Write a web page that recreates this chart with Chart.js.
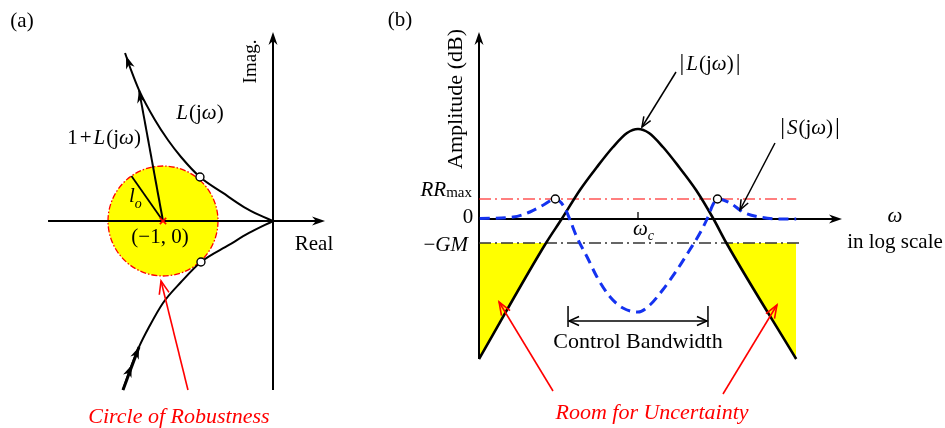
<!DOCTYPE html>
<html><head><meta charset="utf-8">
<script src="https://cdn.jsdelivr.net/npm/chart.js@4.4.1/dist/chart.umd.min.js"></script>
<style>
html,body{margin:0;padding:0;background:#fff;width:945px;height:428px;overflow:hidden}
#ca{position:absolute;left:0;top:0}
#cb{position:absolute;left:380px;top:0}
</style></head>
<body>
<canvas id="ca" width="380" height="428"></canvas>
<canvas id="cb" width="565" height="428"></canvas>
<script>
// ================= Panel (a): Nyquist plane =================
const lUpperRe = [0, -0.127, -0.264, -0.455, -0.664, -0.836, -0.955, -1.073, -1.218, -1.291, -1.345];
const lUpperIm = [0, 0.055, 0.127, 0.255, 0.40, 0.582, 0.736, 0.918, 1.19, 1.373, 1.527];
const lLowerRe = [0, -0.218, -0.40, -0.655, -0.836, -1.0, -1.127, -1.218, -1.291, -1.364];
const lLowerIm = [0, -0.109, -0.218, -0.373, -0.555, -0.745, -0.964, -1.145, -1.327, -1.536];
const criticalPoint = [-1, 0];
const lo = 0.5;               // radius of robustness circle
const loAngleDeg = 125;       // direction of l_o radius line
const vecTip = [-1.218, 1.19]; // tip of 1+L(jω) vector (on L curve)
const touchRe = [-0.664, -0.655];
const touchIm = [0.40, -0.373];
const realAxisRange = [-2.045, 0.473];
const imagAxisRange = [-1.536, 1.718];

// ================= Panel (b): Bode magnitude =================
const logW_L = [-2.0, -1.157, -0.96, -0.73, -0.516, -0.314, -0.138, 0, 0.138, 0.314, 0.516, 0.73, 0.95, 1.112, 1.99];
const magL_dB = [-35, -6, 0, 7.25, 13, 18, 21.5, 22.5, 21.5, 18, 13, 7.25, 0, -6, -35];
const logW_S = [-1.99, -1.57, -1.36, -1.19, -1.04, -0.92, -0.855, -0.77, -0.64, -0.516, -0.35, -0.19, 0, 0.15, 0.31, 0.49, 0.65, 0.78, 0.88, 0.94, 1.0, 1.16, 1.32, 1.53, 1.82, 1.99];
const magS_dB = [0.1, 0.5, 1.75, 3.5, 5, 2.75, -0.25, -4.5, -9.5, -14.5, -19.5, -22.25, -23.25, -21.5, -17.75, -12.75, -7.75, -3.5, 0.5, 3.5, 5, 4, 1.75, 0.5, 0, 0];
const sPeakW = [-1.04, 1.0];
const RRmax_dB = 5;
const GM_dB = 6;
const refLineW = [-2.0, 1.99];
const gmLineW = [-2.0, 2.05];
const bandwidthW = [-0.88, 0.88];
const bAxisW = [-2.0, 2.566];
const bAxisDb = [-35, 46.75];

// ================= helpers =================
const FONT = "'Liberation Serif','Times New Roman',serif";
const fnt = (z, i) => (i ? 'italic ' : '') + z + 'px ' + FONT;
function rich(ctx, x, y, segs, align, color, rot) {
  ctx.save();
  ctx.translate(x, y); if (rot) ctx.rotate(rot);
  ctx.fillStyle = color || '#000'; ctx.textBaseline = 'alphabetic'; ctx.textAlign = 'left';
  let w = 0; const ws = [];
  for (const s of segs) { ctx.font = fnt(s.z || 21, s.i); const m = ctx.measureText(s.t).width + (s.g || 0); ws.push(m); w += m; }
  let cx = align === 'center' ? -w / 2 : align === 'right' ? -w : 0;
  segs.forEach((s, k) => { ctx.font = fnt(s.z || 21, s.i); ctx.fillText(s.t, cx, s.dy || 0); cx += ws[k]; });
  ctx.restore();
}
function seg(ctx, x0, y0, x1, y1, color, lw, dash) {
  ctx.save(); ctx.beginPath(); ctx.moveTo(x0, y0); ctx.lineTo(x1, y1);
  ctx.strokeStyle = color; ctx.lineWidth = lw; if (dash) ctx.setLineDash(dash); ctx.stroke(); ctx.restore();
}
function headFilled(ctx, x, y, ang, len, hw, color) {
  ctx.save(); ctx.translate(x, y); ctx.rotate(ang);
  ctx.beginPath(); ctx.moveTo(0, 0); ctx.lineTo(-len, -hw); ctx.lineTo(-len * 0.7, 0); ctx.lineTo(-len, hw); ctx.closePath();
  ctx.fillStyle = color; ctx.fill(); ctx.restore();
}
function headOpen(ctx, x, y, ang, len, hw, color, lw) {
  ctx.save(); ctx.translate(x, y); ctx.rotate(ang);
  ctx.beginPath(); ctx.moveTo(-len, -hw); ctx.lineTo(0, 0); ctx.lineTo(-len, hw);
  ctx.strokeStyle = color; ctx.lineWidth = lw; ctx.lineJoin = 'miter'; ctx.stroke(); ctx.restore();
}
function arrow(ctx, x0, y0, x1, y1, o) {
  const ang = Math.atan2(y1 - y0, x1 - x0);
  if (o.open) { seg(ctx, x0, y0, x1, y1, o.color, o.lw); headOpen(ctx, x1, y1, ang, o.len, o.hw, o.color, o.lw); }
  else {
    const bx = x1 - Math.cos(ang) * o.len * 0.6, by = y1 - Math.sin(ang) * o.len * 0.6;
    seg(ctx, x0, y0, bx, by, o.color, o.lw); headFilled(ctx, x1, y1, ang, o.len, o.hw, o.color);
  }
}
const pts = (xs, ys) => xs.map((v, i) => ({ x: v, y: ys[i] }));

// ================= Chart (a) =================
const loEnd = [criticalPoint[0] + lo * Math.cos(loAngleDeg * Math.PI / 180), criticalPoint[1] + lo * Math.sin(loAngleDeg * Math.PI / 180)];
const pluginA = {
  id: 'panelA',
  beforeDatasetsDraw(chart) {
    const { ctx, scales: { x, y } } = chart;
    const X = v => x.getPixelForValue(v), Y = v => y.getPixelForValue(v);
    const cx = X(criticalPoint[0]), cy = Y(criticalPoint[1]), r = X(criticalPoint[0] + lo) - cx;
    ctx.save();
    ctx.beginPath(); ctx.arc(cx, cy, r, 0, 2 * Math.PI); ctx.fillStyle = '#ffff00'; ctx.fill();
    ctx.setLineDash([6, 2, 1.5, 2]); ctx.strokeStyle = '#ff0000'; ctx.lineWidth = 1.3; ctx.stroke();
    ctx.restore();
    arrow(ctx, X(realAxisRange[0]), Y(0), X(realAxisRange[1]), Y(0), { color: '#000', lw: 2, len: 13, hw: 4.5 });
    arrow(ctx, X(0), Y(imagAxisRange[0]), X(0), Y(imagAxisRange[1]), { color: '#000', lw: 2, len: 13, hw: 4.5 });
  },
  afterDatasetsDraw(chart) {
    const { ctx, scales: { x, y } } = chart;
    const X = v => x.getPixelForValue(v), Y = v => y.getPixelForValue(v);
    // upper branch arrow head
    let n = lUpperRe.length;
    let ax = X(lUpperRe[n - 2]), ay = Y(lUpperIm[n - 2]), bx = X(lUpperRe[n - 1]), by = Y(lUpperIm[n - 1]);
    let ang = Math.atan2(by - ay, bx - ax);
    headFilled(ctx, bx - Math.cos(ang) * 3, by - Math.sin(ang) * 3, ang, 13, 4.5, '#000');
    // lower branch: thick start + double arrow heads
    n = lLowerRe.length;
    seg(ctx, X(lLowerRe[n - 1]), Y(lLowerIm[n - 1]), X(lLowerRe[n - 3]), Y(lLowerIm[n - 3]), '#000', 3);
    ax = X(lLowerRe[n - 2]); ay = Y(lLowerIm[n - 2]); bx = X(lLowerRe[n - 3]); by = Y(lLowerIm[n - 3]);
    ang = Math.atan2(by - ay, bx - ax);
    headFilled(ctx, bx, by, ang, 12, 4.5, '#000');
    headFilled(ctx, ax + Math.cos(ang) * 2, ay + Math.sin(ang) * 2, ang, 12, 4.5, '#000');
    // 1+L vector head
    const cx = X(criticalPoint[0]), cy = Y(criticalPoint[1]);
    ang = Math.atan2(Y(vecTip[1]) - cy, X(vecTip[0]) - cx);
    headFilled(ctx, X(vecTip[0]), Y(vecTip[1]), ang, 13, 4.2, '#000');
    // red arrow to circle
    arrow(ctx, X(-0.773), Y(-1.536), X(-1.018), Y(-0.545), { color: '#ff0000', lw: 1.6, len: 13, hw: 5, open: true });
    // texts
    rich(ctx, X(-2.282), Y(1.764), [{ t: '(a)' }], 'center');
    rich(ctx, X(-0.155), Y(1.45), [{ t: 'Imag.', z: 19 }], 'center', '#000', -Math.PI / 2);
    rich(ctx, X(0.373), Y(-0.264), [{ t: 'Real' }], 'center');
    rich(ctx, X(-0.664), Y(0.927), [{ t: 'L', i: 1, g: 1 }, { t: '(j' }, { t: 'ω', i: 1 }, { t: ')' }], 'center');
    rich(ctx, X(-1.536), Y(0.70), [{ t: '1', g: 2 }, { t: '+', g: 2 }, { t: 'L', i: 1, g: 1 }, { t: '(j' }, { t: 'ω', i: 1 }, { t: ')' }], 'center');
    rich(ctx, X(-1.309), Y(0.173), [{ t: 'l', i: 1 }, { t: 'o', i: 1, z: 14, dy: 6 }], 'left');
    rich(ctx, X(-1.027), Y(-0.2), [{ t: '(−1, 0)' }], 'center');
    rich(ctx, X(-0.855), Y(-1.836), [{ t: 'Circle of Robustness', i: 1, z: 22 }], 'center', '#ff0000');
  }
};

new Chart(document.getElementById('ca'), {
  type: 'scatter',
  data: {
    datasets: [
      { data: [{ x: criticalPoint[0], y: criticalPoint[1] }], pointStyle: 'crossRot', pointRadius: 4.5, borderColor: '#ff0000', borderWidth: 1.6, backgroundColor: '#ff0000', order: 0 },
      { data: pts(touchRe, touchIm), pointStyle: 'circle', pointRadius: 4, borderColor: '#000', borderWidth: 1.4, backgroundColor: '#fff', order: 1 },
      { data: pts(lUpperRe, lUpperIm), showLine: true, cubicInterpolationMode: 'monotone', borderColor: '#000', borderWidth: 2, pointRadius: 0, order: 2 },
      { data: pts(lLowerRe, lLowerIm), showLine: true, cubicInterpolationMode: 'monotone', borderColor: '#000', borderWidth: 2, pointRadius: 0, order: 3 },
      { data: [{ x: criticalPoint[0], y: criticalPoint[1] }, { x: vecTip[0], y: vecTip[1] }], showLine: true, borderColor: '#000', borderWidth: 2, pointRadius: 0, order: 4 },
      { data: [{ x: criticalPoint[0], y: criticalPoint[1] }, { x: loEnd[0], y: loEnd[1] }], showLine: true, borderColor: '#000', borderWidth: 1.8, pointRadius: 0, order: 5 }
    ]
  },
  options: {
    responsive: false, animation: false, devicePixelRatio: 1, events: [],
    layout: { padding: 0, autoPadding: false },
    plugins: { legend: { display: false }, tooltip: { enabled: false } },
    scales: {
      x: { type: 'linear', display: false, min: -273 / 110, max: (380 - 273) / 110 },
      y: { type: 'linear', display: false, min: -(428 - 221) / 110, max: 221 / 110 }
    }
  },
  plugins: [pluginA]
});

// ================= Chart (b) =================
const pluginB = {
  id: 'panelB',
  beforeDatasetsDraw(chart) {
    const { ctx, scales: { x, y } } = chart;
    const X = v => x.getPixelForValue(v), Y = v => y.getPixelForValue(v);
    seg(ctx, X(bAxisW[0]), Y(bAxisDb[0]), X(bAxisW[0]), Y(0), '#000', 2);
    arrow(ctx, X(bAxisW[0]), Y(0), X(bAxisW[0]), Y(bAxisDb[1]), { color: '#000', lw: 2, len: 13, hw: 4.5 });
    arrow(ctx, X(bAxisW[0]), Y(0), X(bAxisW[1]), Y(0), { color: '#000', lw: 2, len: 13, hw: 4.5 });
    seg(ctx, X(0), Y(0), X(0), Y(1.75), '#000', 1.3);
  },
  afterDatasetsDraw(chart) {
    const { ctx, scales: { x, y } } = chart;
    const X = v => x.getPixelForValue(v), Y = v => y.getPixelForValue(v);
    // annotation arrows
    arrow(ctx, X(0.478), Y(36.75), X(0.05), Y(23), { color: '#000', lw: 1.5, len: 10, hw: 4, open: true });
    arrow(ctx, X(1.723), Y(19), X(1.283), Y(2.25), { color: '#000', lw: 1.5, len: 10, hw: 4, open: true });
    // control bandwidth
    const b0 = X(bandwidthW[0]), b1 = X(bandwidthW[1]);
    seg(ctx, b0, Y(-21.75), b0, Y(-27), '#000', 1.5);
    seg(ctx, b1, Y(-21.75), b1, Y(-27), '#000', 1.5);
    const ay = Y(-25.5);
    seg(ctx, b0 + 1, ay, b1 - 1, ay, '#000', 1.5);
    headOpen(ctx, b0 + 1, ay, Math.PI, 10, 4.5, '#000', 1.5);
    headOpen(ctx, b1 - 1, ay, 0, 10, 4.5, '#000', 1.5);
    // red arrows
    arrow(ctx, X(-1.069), Y(-43), X(-1.748), Y(-20.75), { color: '#ff0000', lw: 1.6, len: 13, hw: 5, open: true });
    arrow(ctx, X(1.069), Y(-43.75), X(1.748), Y(-21.5), { color: '#ff0000', lw: 1.6, len: 13, hw: 5, open: true });
    // texts
    rich(ctx, X(-2.994), Y(48.25), [{ t: '(b)' }], 'center');
    rich(ctx, X(-2.214), Y(30), [{ t: 'Amplitude (dB)', z: 22 }], 'center', '#000', -Math.PI / 2);
    rich(ctx, X(-2.088), Y(5.75), [{ t: 'RR', i: 1 }, { t: 'max', z: 15, dy: 1 }], 'right');
    rich(ctx, X(-2.138), Y(-1.0), [{ t: '0' }], 'center');
    rich(ctx, X(-2.138), Y(-8), [{ t: '−', g: 0 }, { t: 'GM', i: 1 }], 'right');
    rich(ctx, X(-0.063), Y(-4), [{ t: 'ω', i: 1 }, { t: 'c', i: 1, z: 14, dy: 5 }], 'left');
    rich(ctx, X(0.906), Y(37.25), [{ t: '|', z: 24, g: 2 }, { t: 'L', i: 1, g: 1 }, { t: '(j' }, { t: 'ω', i: 1 }, { t: ')', g: 2 }, { t: '|', z: 24 }], 'center');
    rich(ctx, X(2.164), Y(21.25), [{ t: '|', z: 24, g: 2 }, { t: 'S', i: 1, g: 1 }, { t: '(j' }, { t: 'ω', i: 1 }, { t: ')', g: 2 }, { t: '|', z: 24 }], 'center');
    rich(ctx, X(3.233), Y(-0.75), [{ t: 'ω', i: 1 }], 'center');
    rich(ctx, X(3.233), Y(-7.25), [{ t: 'in log scale' }], 'center');
    rich(ctx, X(0), Y(-32.25), [{ t: 'Control Bandwidth', z: 22 }], 'center');
    rich(ctx, X(0.176), Y(-50), [{ t: 'Room for Uncertainty', i: 1, z: 22 }], 'center', '#ff0000');
  }
};

new Chart(document.getElementById('cb'), {
  type: 'scatter',
  data: {
    datasets: [
      { data: sPeakW.map(w => ({ x: w, y: RRmax_dB })), pointStyle: 'circle', pointRadius: 4, borderColor: '#000', borderWidth: 1.4, backgroundColor: '#fff', order: 0 },
      { data: pts(logW_S, magS_dB), showLine: true, cubicInterpolationMode: 'monotone', borderColor: '#1432f0', borderWidth: 3, borderDash: [10, 6], pointRadius: 0, order: 1 },
      { data: pts(logW_L, magL_dB), showLine: true, cubicInterpolationMode: 'monotone', borderColor: '#000', borderWidth: 2.6, pointRadius: 0, order: 2,
        fill: { target: { value: -GM_dB }, above: 'rgba(0,0,0,0)', below: '#ffff00' } },
      { data: refLineW.map(w => ({ x: w, y: RRmax_dB })), showLine: true, borderColor: '#ff0000', borderWidth: 1.2, borderDash: [12, 4, 2, 4], pointRadius: 0, order: 3 },
      { data: gmLineW.map(w => ({ x: w, y: -GM_dB })), showLine: true, borderColor: '#333', borderWidth: 1.3, borderDash: [12, 4, 2, 4], pointRadius: 0, order: 4 }
    ]
  },
  options: {
    responsive: false, animation: false, devicePixelRatio: 1, events: [],
    layout: { padding: 0, autoPadding: false },
    plugins: { legend: { display: false }, tooltip: { enabled: false }, filler: { drawTime: 'beforeDatasetsDraw' } },
    scales: {
      x: { type: 'linear', display: false, min: (380 - 638) / 79.5, max: (945 - 638) / 79.5 },
      y: { type: 'linear', display: false, min: -(428 - 219) / 4, max: 219 / 4 }
    }
  },
  plugins: [pluginB]
});
</script>
</body></html>
